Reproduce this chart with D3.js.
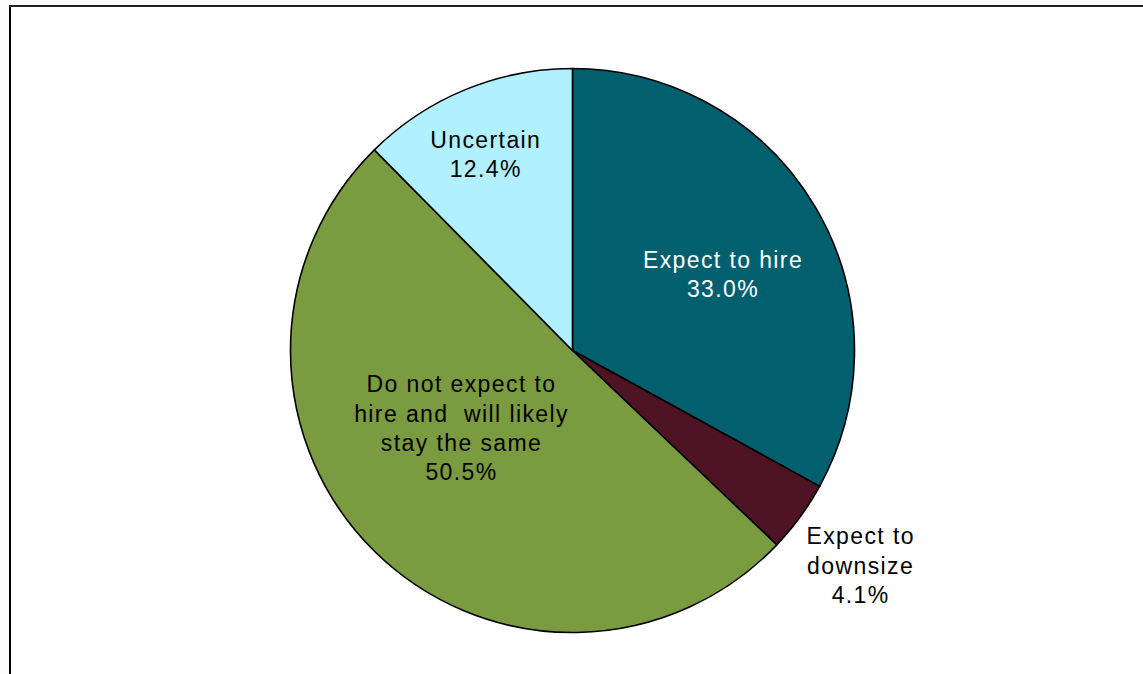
<!DOCTYPE html>
<html>
<head>
<meta charset="utf-8">
<script src="https://cdn.jsdelivr.net/npm/d3@7"></script>
<style>
  html, body { margin: 0; padding: 0; background: #fbfbfb; }
  svg { display: block; }
  text { font-family: "Liberation Sans", Arial, sans-serif; }
</style>
</head>
<body>
<svg id="chart" width="1143" height="674"></svg>
<script>
// Hiring outlook survey shares (percent), clockwise from 12 o'clock
const categories = ["Expect to hire", "Expect to downsize", "Do not expect to hire and will likely stay the same", "Uncertain"];
const shares = [33.0, 4.1, 50.5, 12.4];
const labelLines = [
  ["Expect to hire"],
  ["Expect to", "downsize"],
  ["Do not expect to", "hire and  will likely", "stay the same"],
  ["Uncertain"]
];
const sliceColors = ["#02606E", "#4F1424", "#7A9B3F", "#B0F0FF"];
const labelColors = ["#ffffff", "#000000", "#000000", "#000000"];

// label anchors: [angle in degrees clockwise from top, distance from centre]
const labelAnchors = [[63.1, 168], [126.8, 359], [235.2, 136], [336.0, 215]];

const W = 1143, H = 674;
const cx = 572.5, cy = 350.5, R = 282;
const fontSize = 23, lineH = 29.3;

const svg = d3.select("#chart");

// plot area frame (left and top edges visible)
svg.append("rect").attr("x", 10).attr("y", 6).attr("width", W + 20).attr("height", H + 20)
  .attr("fill", "#ffffff").attr("stroke", "none");
svg.append("line").attr("x1", 10).attr("x2", 10).attr("y1", 6).attr("y2", H)
  .attr("stroke", "#000").attr("stroke-width", 2);
svg.append("line").attr("x1", 9).attr("x2", W).attr("y1", 6).attr("y2", 6)
  .attr("stroke", "#222").attr("stroke-width", 2);

const data = categories.map((c, i) => ({ category: c, value: shares[i], i }));

const pie = d3.pie().sort(null).value(d => d.value).startAngle(0).endAngle(2 * Math.PI);
const arc = d3.arc().innerRadius(0).outerRadius(R);

const g = svg.append("g").attr("transform", `translate(${cx},${cy})`);

g.selectAll("path.slice")
  .data(pie(data))
  .join("path")
  .attr("class", "slice")
  .attr("d", arc)
  .attr("fill", d => sliceColors[d.data.i])
  .attr("stroke", "#000")
  .attr("stroke-width", 1.6)
  .attr("stroke-linejoin", "round");

const fmt = d3.format(".1f");

const labels = g.selectAll("text.lbl")
  .data(pie(data))
  .join("text")
  .attr("class", "lbl")
  .attr("text-anchor", "middle")
  .attr("font-size", fontSize)
  .attr("letter-spacing", 1.4)
  .attr("fill", d => labelColors[d.data.i])
  .style("white-space", "pre")
  .attr("xml:space", "preserve");

labels.each(function (d) {
  const i = d.data.i;
  const [angDeg, r] = labelAnchors[i];
  const a = angDeg * Math.PI / 180;
  const x = r * Math.sin(a);
  const y = -r * Math.cos(a);
  const lines = labelLines[i].concat([fmt(d.data.value) + "%"]);
  const firstBaseline = y - (lines.length - 1) * lineH / 2 + fontSize * 0.716 / 2;
  const t = d3.select(this);
  lines.forEach((ln, k) => {
    t.append("tspan")
      .attr("x", x + 0.7)
      .attr("y", firstBaseline + k * lineH)
      .text(ln);
  });
});
</script>
</body>
</html>
